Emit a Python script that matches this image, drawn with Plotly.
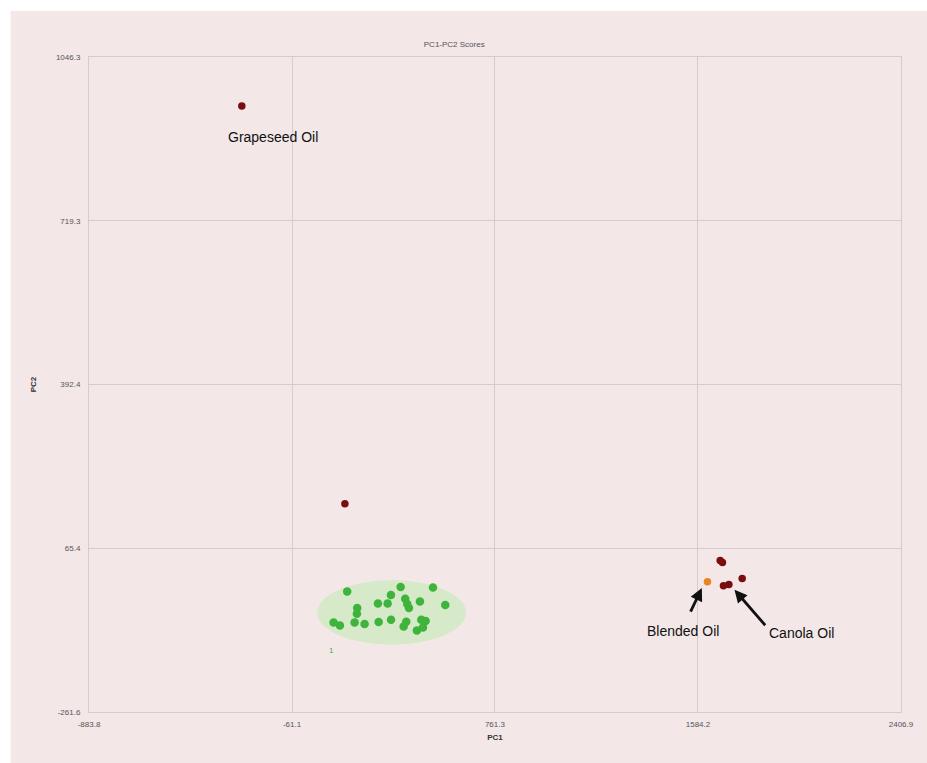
import plotly.graph_objects as go

# PCA score values (PC1, PC2)
ellipse_group_pc1 = [162.6, 379.1, 510.1, 339.8, 397.8, 287.1, 326.4, 457.4, 560.0, 405.9,
                     412.8, 203.1, 201.9, 107.4, 133.0, 192.6, 233.1, 289.9, 340.2, 401.9,
                     391.3, 462.7, 480.5, 469.6, 445.1]
ellipse_group_pc2 = [-20.9, -12.1, -12.9, -28.1, -35.4, -44.8, -44.8, -40.8, -48.0, -46.0,
                     -54.0, -54.0, -65.4, -82.8, -88.7, -82.8, -86.0, -82.0, -77.4, -81.4,
                     -90.7, -77.4, -80.0, -92.7, -98.7]

other_oils_pc1 = [-264.5, 153.2, 1674.1, 1683.4, 1687.5, 1709.4, 1763.3]
other_oils_pc2 = [948.6, 154.2, 41.0, 37.0, -9.5, -6.9, 5.1]

blended_pc1 = [1622.6]
blended_pc2 = [-1.5]

# Confidence ellipse (centre and half-widths) and axis ticks
ellipse_center = (342.6, -63.0)
ellipse_half = (301.3, 64.3)
x_ticks = [-883.8, -61.1, 761.3, 1584.2, 2406.9]
y_ticks = [-261.6, 65.4, 392.4, 719.3, 1046.3]

PINK = "rgb(243,231,232)"
GRID = "rgb(214,204,205)"
TICKFONT = dict(family="Liberation Sans, Arial", size=8, color="#555")

fig = go.Figure()

fig.add_trace(go.Scatter(
    x=ellipse_group_pc1, y=ellipse_group_pc2, mode="markers",
    marker=dict(size=8.5, color="rgb(62,180,60)"), showlegend=False))
fig.add_trace(go.Scatter(
    x=other_oils_pc1, y=other_oils_pc2, mode="markers",
    marker=dict(size=7.5, color="rgb(122,14,14)"), showlegend=False))
fig.add_trace(go.Scatter(
    x=blended_pc1, y=blended_pc2, mode="markers",
    marker=dict(size=7.5, color="rgb(233,132,30)"), showlegend=False))

cx, cy = ellipse_center
rx, ry = ellipse_half
fig.add_shape(type="circle", xref="x", yref="y",
              x0=cx - rx, x1=cx + rx, y0=cy - ry, y1=cy + ry,
              fillcolor="rgb(214,233,200)", line=dict(width=0), layer="below")

# White frame on the top and left edges of the page
fig.add_shape(type="rect", xref="paper", yref="paper",
              x0=-0.2, x1=1.1, y0=1.0702, y1=1.2,
              fillcolor="white", line=dict(width=0), layer="below")
fig.add_shape(type="rect", xref="paper", yref="paper",
              x0=-0.2, x1=-0.0965, y0=-0.2, y1=1.2,
              fillcolor="white", line=dict(width=0), layer="below")

label_font = dict(family="Liberation Sans, Arial", size=14, color="#111")
fig.add_annotation(x=-137.6, y=886.1, text="Grapeseed Oil", showarrow=False, font=label_font)
fig.add_annotation(x=1525.3, y=-100.7, text="Blended Oil", showarrow=False, font=label_font)
fig.add_annotation(x=2005.5, y=-103.9, text="Canola Oil", showarrow=False, font=label_font)

# Arrows pointing from the labels to the blended and canola points
fig.add_annotation(x=1599.9, y=-14.1, ax=-12, ay=25, xref="x", yref="y",
                   text="", showarrow=True, arrowhead=2, arrowsize=0.9,
                   arrowwidth=2.8, arrowcolor="#111")
fig.add_annotation(x=1732.1, y=-17.5, ax=32, ay=37, xref="x", yref="y",
                   text="", showarrow=True, arrowhead=2, arrowsize=0.9,
                   arrowwidth=2.8, arrowcolor="#111")

fig.add_annotation(x=100.5, y=-139.2, text="1", showarrow=False,
                   font=dict(family="Liberation Sans, Arial", size=8, color="rgb(62,180,60)"))

fig.update_layout(
    width=927, height=763,
    margin=dict(l=89, r=26, t=57, b=51),
    paper_bgcolor=PINK, plot_bgcolor=PINK,
    title=dict(text="PC1-PC2 Scores", x=0.49, xanchor="center", y=1 - 44 / 763,
               yanchor="middle", font=dict(family="Liberation Sans, Arial", size=8, color="#555")),
    xaxis=dict(range=[x_ticks[0], x_ticks[-1]], tickmode="array", tickvals=x_ticks,
               ticktext=[f"{v:.1f}" for v in x_ticks], showgrid=True, gridcolor=GRID,
               zeroline=False, showline=True, linecolor=GRID, mirror=True,
               tickfont=TICKFONT, ticks="", ticklabelstandoff=4,
               title=dict(text="<b>PC1</b>", standoff=6,
                          font=dict(family="Liberation Sans, Arial", size=8, color="#333"))),
    yaxis=dict(range=[y_ticks[0], y_ticks[-1]], tickmode="array", tickvals=y_ticks,
               ticktext=[f"{v:.1f}" for v in y_ticks], showgrid=True, gridcolor=GRID,
               zeroline=False, showline=True, linecolor=GRID, mirror=True,
               tickfont=TICKFONT, ticks="", ticklabelstandoff=6,
               title=dict(text="<b>PC2</b>", standoff=18,
                          font=dict(family="Liberation Sans, Arial", size=8, color="#333"))),
)

fig.write_html("out.html")
